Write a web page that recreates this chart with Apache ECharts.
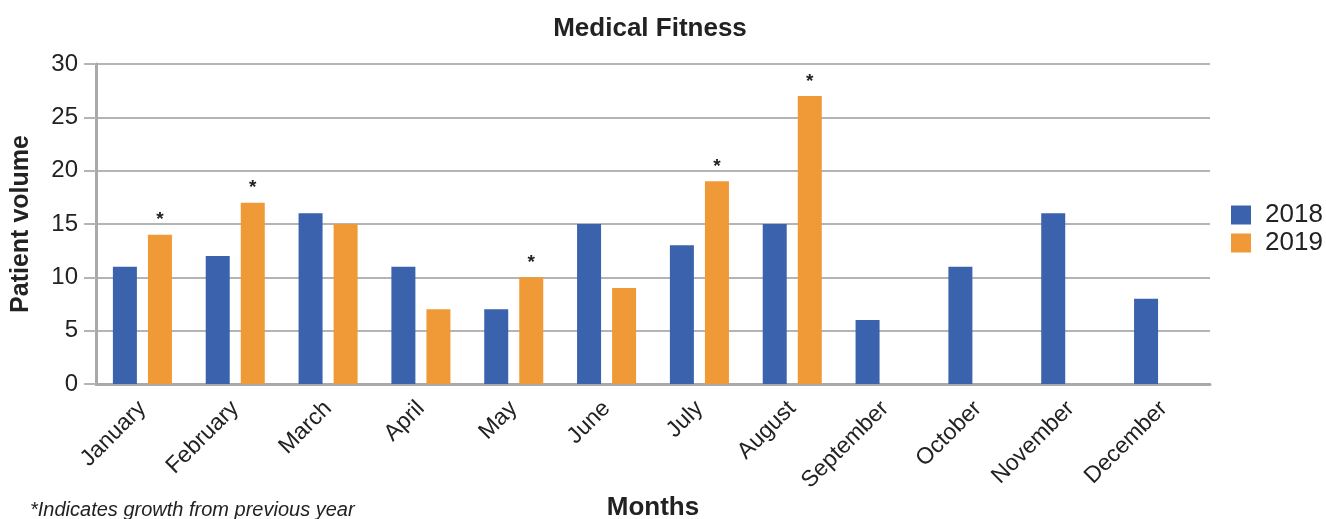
<!DOCTYPE html>
<html>
<head>
<meta charset="utf-8">
<script src="https://cdn.jsdelivr.net/npm/echarts@6/dist/echarts.min.js"></script>
<style>
  html, body { margin: 0; padding: 0; background: #fff; overflow: hidden; }
  #chart { width: 1326px; height: 519px; }
</style>
</head>
<body>
<div id="chart"></div>
<script>
// Monthly patient volume, medical fitness programme
const months = ['January', 'February', 'March', 'April', 'May', 'June', 'July', 'August', 'September', 'October', 'November', 'December'];
const volume2018 = [11, 12, 16, 11, 7, 15, 13, 15, 6, 11, 16, 8];
const volume2019 = [14, 17, 15, 7, 10, 9, 19, 27, null, null, null, null];
const yTicks = [0, 5, 10, 15, 20, 25, 30];

const FONT = '"Liberation Sans", Arial, sans-serif';

// a month shows growth when its 2019 volume exceeds the 2018 one
const grew = volume2019.map((v, i) => v != null && v > volume2018[i]);

const chart = echarts.init(document.getElementById('chart'), null, { renderer: 'canvas' });
chart.setOption({
  animation: false,
  backgroundColor: '#ffffff',
  title: {
    text: 'Medical Fitness',
    left: 645, top: 11, textAlign: 'center',
    textStyle: { fontFamily: FONT, fontSize: 26, fontWeight: 'bold', color: '#222' }
  },
  legend: {
    left: 1226, top: 197, orient: 'vertical', itemGap: 2,
    itemWidth: 20, itemHeight: 19, icon: 'rect',
    textStyle: { fontFamily: FONT, fontSize: 26, color: '#222', padding: [0, 0, 0, 9] },
    data: ['2018', '2019']
  },
  grid: { left: 96, right: 116, top: 64, bottom: 135, containLabel: false, outerBoundsMode: 'none' },
  xAxis: {
    type: 'category',
    data: months,
    name: 'Months',
    nameLocation: 'middle',
    nameGap: 111,
    nameMoveOverlap: false,
    nameTextStyle: { fontFamily: FONT, fontSize: 26, fontWeight: 'bold', color: '#222' },
    axisLine: { lineStyle: { color: '#a9a9ab', width: 3 } },
    axisTick: { show: false },
    axisLabel: { rotate: 45, fontFamily: FONT, fontSize: 23, color: '#222', margin: 21, interval: 0 }
  },
  yAxis: {
    type: 'value',
    min: yTicks[0], max: yTicks[yTicks.length - 1], interval: 5,
    name: 'Patient volume',
    nameLocation: 'middle',
    nameGap: 62,
    nameMoveOverlap: false,
    nameTextStyle: { fontFamily: FONT, fontSize: 25, fontWeight: 'bold', color: '#222' },
    axisLine: { show: true, lineStyle: { color: '#a9a9ab', width: 3 } },
    axisTick: { show: true, length: 12, lineStyle: { color: '#b4b4b6', width: 2 } },
    axisLabel: { fontFamily: FONT, fontSize: 24, color: '#222', margin: 18 },
    splitLine: { lineStyle: { color: '#b4b4b6', width: 2 } }
  },
  series: [
    {
      name: '2018', type: 'bar', data: volume2018,
      barWidth: 24, barGap: '46%',
      itemStyle: { color: '#3b62ad' }
    },
    {
      name: '2019', type: 'bar', data: volume2019,
      barWidth: 24,
      itemStyle: { color: '#ef9a36' },
      label: {
        show: true, position: 'top', distance: 5,
        fontFamily: FONT, fontSize: 19, fontWeight: 'bold', color: '#222',
        formatter: p => (grew[p.dataIndex] ? '*' : '')
      }
    }
  ],
  graphic: [
    {
      type: 'text', left: 30, top: 500,
      style: {
        text: '*Indicates growth from previous year',
        font: 'italic 20px "Liberation Sans", Arial, sans-serif',
        fill: '#222'
      }
    }
  ]
});
</script>
</body>
</html>
